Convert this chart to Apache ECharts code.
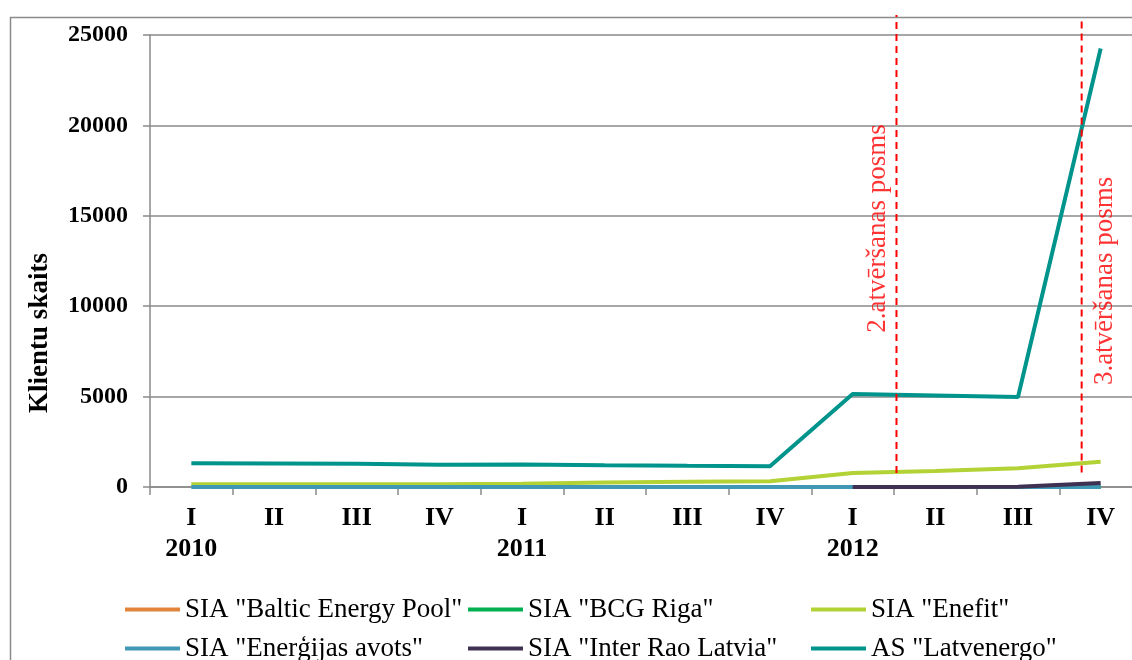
<!DOCTYPE html>
<html>
<head>
<meta charset="utf-8">
<script src="https://cdn.jsdelivr.net/npm/echarts@6/dist/echarts.min.js"></script>
<style>
  html, body { margin: 0; padding: 0; background: #fff; }
  #chart { width: 1132px; height: 660px; }
</style>
</head>
<body>
<div id="chart"></div>
<script>
// ceturkšņi
const quarters = ["I\n2010", "II", "III", "IV", "I\n2011", "II", "III", "IV", "I\n2012", "II", "III", "IV"];
const yTicks = [0, 5000, 10000, 15000, 20000, 25000];

const balticEnergyPool = [null, null, null, null, null, null, null, null, 0, 0, 0, 0];
const bcgRiga = [null, null, null, null, null, null, null, null, 0, 0, 0, 0];
const enefit = [150, 150, 150, 150, 180, 250, 290, 320, 770, 880, 1040, 1390];
const energijasAvots = [0, 0, 0, 0, 0, 0, 0, 0, 0, 0, 0, 0];
const interRao = [null, null, null, null, null, null, null, null, 0, 0, 10, 220];
const latvenergo = [1320, 1300, 1280, 1230, 1250, 1200, 1170, 1150, 5140, 5060, 4980, 24250];

// atvēršanas posmi (pozīcija starp ceturkšņiem)
const stages = [
  { name: "2.atvēršanas posms", x: 9.03, from: 780, to: 26100, labelX: 8.81, labelY: 14300 },
  { name: "3.atvēršanas posms", x: 11.27, from: 800, to: 25880, labelX: 11.55, labelY: 11400 }
];

const serif = "'Liberation Serif', 'DejaVu Serif', serif";
const gridColor = "#8a8a8a";

const chart = echarts.init(document.getElementById("chart"));

const lineSeries = (name, data, color) => ({
  name: name,
  type: "line",
  data: data,
  symbol: "none",
  color: color,
  lineStyle: { width: 4, color: color },
  connectNulls: false,
  animation: false,
});

const option = {
  animation: false,
  graphic: [
    {
      type: "rect",
      left: 8,
      top: 15,
      shape: { width: 1200, height: 700 },
      style: { fill: "none", stroke: "#8a8a8a", lineWidth: 1.5 },
      z: -1,
    },
    {
      type: "text",
      x: 40,
      y: 333,
      rotation: Math.PI / 2,
      style: {
        text: "Klientu skaits",
        font: "bold 27px " + serif,
        fill: "#000",
        align: "center",
        verticalAlign: "middle",
      },
    },
  ],
  grid: { left: 150, top: 35, width: 992, bottom: 173, outerBoundsMode: "none" },
  legend: {
    data: ['SIA "Baltic Energy Pool"', 'SIA "BCG Riga"', 'SIA "Enefit"', 'SIA "Enerģijas avots"', 'SIA "Inter Rao Latvia"', 'AS "Latvenergo"'],
    left: 125,
    top: 590,
    padding: 0,
    width: 1040,
    itemWidth: 55,
    itemHeight: 4,
    itemGap: 0,
    icon: "rect",
    textStyle: {
      fontFamily: serif,
      fontSize: 27,
      color: "#000",
      width: 283,
      lineHeight: 39,
    },
  },
  xAxis: [
    {
      type: "category",
      data: quarters,
      axisLine: { lineStyle: { color: gridColor, width: 1.5 } },
      axisTick: { show: true, length: 8, lineStyle: { color: gridColor, width: 1.5 } },
      axisLabel: {
        interval: 0,
        margin: 16,
        color: "#000",
        fontFamily: serif,
        fontWeight: "bold",
        fontSize: 26,
        lineHeight: 31,
      },
    },
    { type: "value", min: 0, max: 12, show: false },
  ],
  yAxis: {
    type: "value",
    min: yTicks[0],
    max: yTicks[yTicks.length - 1],
    interval: 5000,
    axisLine: { show: true, lineStyle: { color: gridColor, width: 1.5 } },
    axisTick: { show: true, length: 7, lineStyle: { color: gridColor, width: 1.5 } },
    splitLine: { lineStyle: { color: gridColor, width: 1.5 } },
    axisLabel: {
      margin: 22,
      color: "#000",
      fontFamily: serif,
      fontWeight: "bold",
      fontSize: 24,
      formatter: (v) => String(v),
    },
  },
  series: [
    lineSeries('SIA "Baltic Energy Pool"', balticEnergyPool, "#e2843c"),
    lineSeries('SIA "BCG Riga"', bcgRiga, "#00b050"),
    lineSeries('SIA "Enefit"', enefit, "#b2d235"),
    lineSeries('SIA "Enerģijas avots"', energijasAvots, "#4198b4"),
    lineSeries('SIA "Inter Rao Latvia"', interRao, "#3f3151"),
    lineSeries('AS "Latvenergo"', latvenergo, "#00948c"),
    ...stages.map((s) => ({
      type: "line",
      xAxisIndex: 1,
      symbol: "none",
      clip: false,
      data: [[s.x, s.from], [s.x, s.to]],
      lineStyle: { color: "#ff0000", width: 2, type: [7, 5] },
      z: 3,
    })),
    {
      type: "scatter",
      xAxisIndex: 1,
      symbolSize: 0,
      data: stages.map((s) => [s.labelX, s.labelY, s.name]),
      label: {
        show: true,
        position: "inside",
        rotate: 90,
        formatter: (p) => p.data[2],
        color: "#ff0000",
        fontFamily: serif,
        fontSize: 27,
      },
    },
  ],
};

chart.setOption(option);
</script>
</body>
</html>
